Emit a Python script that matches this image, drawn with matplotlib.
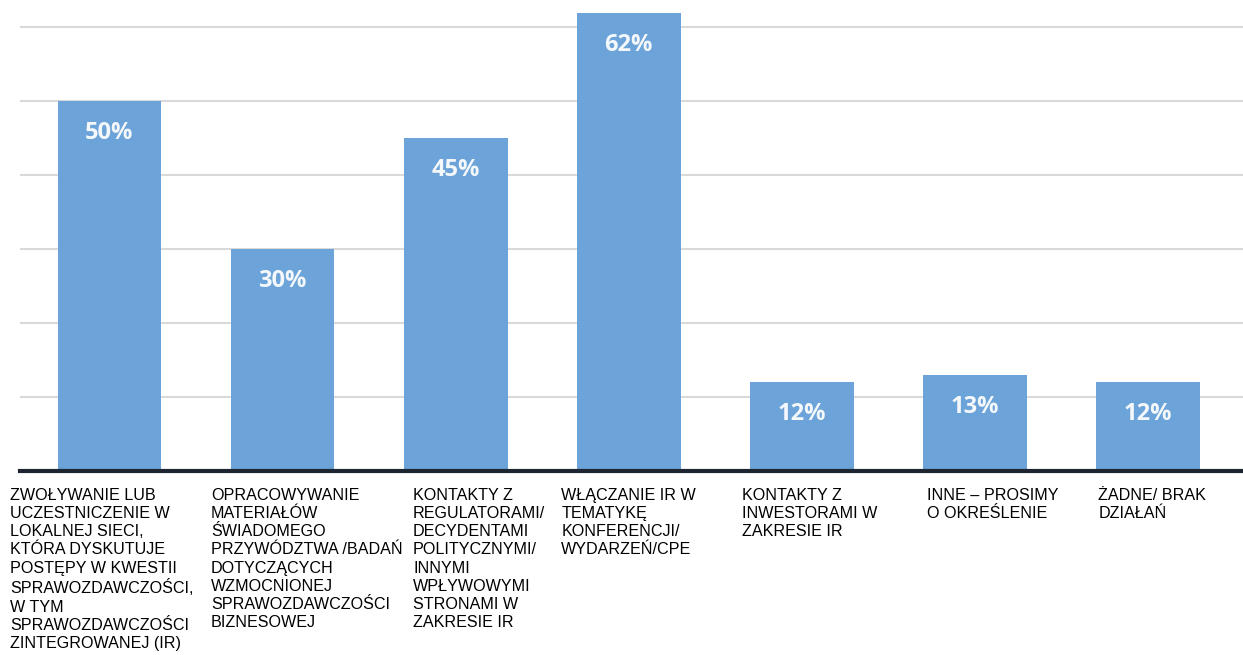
"""Bar chart of IR activities (percent of respondents)"""
import numpy as np
import matplotlib.pyplot as plt

# Data
categories = [
    "ZWOŁYWANIE LUB\nUCZESTNICZENIE W\nLOKALNEJ SIECI,\nKTÓRA DYSKUTUJE\nPOSTĘPY W KWESTII\nSPRAWOZDAWCZOŚCI,\nW TYM\nSPRAWOZDAWCZOŚCI\nZINTEGROWANEJ (IR)",
    "OPRACOWYWANIE\nMATERIAŁÓW\nŚWIADOMEGO\nPRZYWÓDZTWA /BADAŃ\nDOTYCZĄCYCH\nWZMOCNIONEJ\nSPRAWOZDAWCZOŚCI\nBIZNESOWEJ",
    "KONTAKTY Z\nREGULATORAMI/\nDECYDENTAMI\nPOLITYCZNYMI/\nINNYMI\nWPŁYWOWYMI\nSTRONAMI W\nZAKRESIE IR",
    "WŁĄCZANIE IR W\nTEMATYKĘ\nKONFERENCJI/\nWYDARZEŃ/CPE",
    "KONTAKTY Z\nINWESTORAMI W\nZAKRESIE IR",
    "INNE – PROSIMY\nO OKREŚLENIE",
    "ŻADNE/ BRAK\nDZIAŁAŃ",
]
values = [50, 30, 45, 62, 12, 13, 12]
value_labels = ["50%", "30%", "45%", "62%", "12%", "13%", "12%"]

# layout: horizontal shift of each category label relative to bar centre
label_shift = [-0.575, -0.413, -0.246, -0.39, -0.344, -0.275, -0.286]

bar_color = "#6ca3d8"

fig = plt.figure(figsize=(12.43, 6.55), dpi=100)
ax = fig.add_axes([20 / 1243, (655 - 471) / 655, 1 - 20 / 1243, 471 / 655])

x = np.arange(len(values))
ax.bar(x, values, width=0.6, color=bar_color, zorder=2)

ax.set_xlim(-0.517, 6.55)
ax.set_ylim(0, 63.7)
ax.set_yticks(np.arange(0, 61, 10))
ax.yaxis.grid(True, color="#d9d9d9", linewidth=1.5, zorder=0)
ax.set_xticks([])
ax.tick_params(left=False, labelleft=False)
for side in ["top", "right", "left"]:
    ax.spines[side].set_visible(False)
ax.spines["bottom"].set_color("#1c2530")
ax.spines["bottom"].set_linewidth(3)
ax.spines["bottom"].set_zorder(3)

# value labels inside bars
for xi, v, lab in zip(x, values, value_labels):
    ax.annotate(lab, (xi, v), xytext=(0, -23), textcoords="offset points",
                ha="center", va="center", color="#f4f8fb", fontsize=17,
                fontweight="bold", family="Open Sans", zorder=4)

# category labels below the axis
for xi, cat, sh in zip(x, categories, label_shift):
    ax.annotate(cat, (xi + sh, 0), xytext=(0, -12), textcoords="offset points",
                ha="left", va="top", fontsize=11.6, family="Liberation Sans",
                color="black", linespacing=1.27, annotation_clip=False)

fig.savefig("out.png", dpi=100)
plt.close()
